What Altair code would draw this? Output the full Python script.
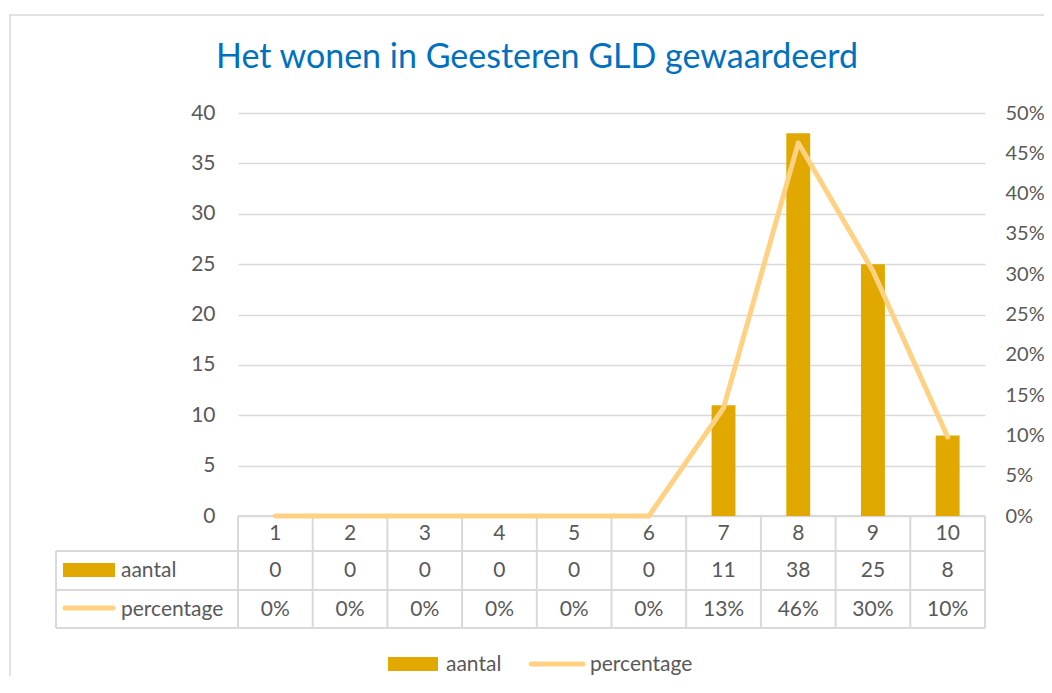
import altair as alt
import pandas as pd

categories = ["1", "2", "3", "4", "5", "6", "7", "8", "9", "10"]
aantal = [0, 0, 0, 0, 0, 0, 11, 38, 25, 8]
percentage = [0.0, 0.0, 0.0, 0.0, 0.0, 0.0, 0.134, 0.463, 0.304, 0.098]
left_ticks = [0, 5, 10, 15, 20, 25, 30, 35, 40]
right_ticks = [0, 0.05, 0.10, 0.15, 0.20, 0.25, 0.30, 0.35, 0.40, 0.45, 0.50]
title_text = "Het wonen in Geesteren GLD gewaardeerd"
series_names = ["aantal", "percentage"]

BAR = "#E1A900"
LINE = "#FFD283"
GRID = "#D9D9D9"
TXT = "#595959"
FONT = "Lato"
FS = 21

W, H = 747, 403

df = pd.DataFrame({"cat": categories, "aantal": aantal, "percentage": percentage})
one = pd.DataFrame({"k": [0]})

xenc = alt.X("cat:O", sort=categories, scale=alt.Scale(paddingInner=0, paddingOuter=0), axis=None)

base = alt.Chart(df)

bars = base.mark_bar(color=BAR, width=alt.RelativeBandSize(0.32)).encode(
    x=xenc,
    y=alt.Y("aantal:Q", scale=alt.Scale(domain=[0, 40]),
            axis=alt.Axis(orient="left", values=left_ticks, grid=True, gridColor=GRID,
                          gridWidth=1.5, title=None, labelPadding=23, labelFontSize=FS)),
)

line = base.mark_line(color=LINE, strokeWidth=5, strokeCap="round", strokeJoin="round").encode(
    x=xenc,
    y=alt.Y("percentage:Q", scale=alt.Scale(domain=[0, 0.5]),
            axis=alt.Axis(orient="right", values=right_ticks, format=".0%", grid=False,
                          title=None, labelPadding=20, labelFontSize=20)),
)

# table grid
def rule(x1, x2, y1, y2):
    return alt.Chart(one).mark_rule(color=GRID, strokeWidth=2).encode(
        x=alt.value(x1), x2=alt.value(x2), y=alt.value(y1), y2=alt.value(y2))

rules = [
    rule(0, W, H, H),
    rule(-182, W, 438, 438),
    rule(-182, W, 477, 477),
    rule(-182, W, 515, 515),
    rule(-182, -182, 438, 515),
    rule(W, W, H, 515),
]

vlines = base.mark_rule(color=GRID, strokeWidth=2).encode(
    x=alt.X("cat:O", sort=categories, scale=alt.Scale(paddingInner=0, paddingOuter=0),
            axis=None, bandPosition=0),
    y=alt.value(H), y2=alt.value(515),
)

def celltext(field, ypos, fmt=None):
    t = alt.Text(f"{field}:Q", format=fmt) if fmt else alt.Text(f"{field}:N")
    return base.mark_text(font=FONT, fontSize=FS, color=TXT, baseline="middle").encode(
        x=xenc, y=alt.value(ypos), text=t)

header = celltext("cat", 421)
row1 = celltext("aantal", 458)
row2 = celltext("percentage", 497, ".0%")

def label(txt, x, y, size=FS, color=TXT, align="left", baseline="middle"):
    return alt.Chart(one).mark_text(font=FONT, fontSize=size, color=color, align=align,
                                    baseline=baseline, text=txt).encode(
        x=alt.value(x), y=alt.value(y))

def swatch_rect(x1, x2, y1, y2):
    return alt.Chart(one).mark_rect(color=BAR).encode(
        x=alt.value(x1), x2=alt.value(x2), y=alt.value(y1), y2=alt.value(y2))

def swatch_line(x1, x2, y):
    return alt.Chart(one).mark_rule(color=LINE, strokeWidth=5, strokeCap="round").encode(
        x=alt.value(x1), x2=alt.value(x2), y=alt.value(y))

border = alt.Chart(one).mark_rect(fill=None, stroke=GRID, strokeWidth=1.5).encode(
    x=alt.value(-228), x2=alt.value(W + 80), y=alt.value(-98), y2=alt.value(H + 250))

title = label(title_text, 299, -45, size=34, color="#0070C0", align="center", baseline="alphabetic")

legend_parts = [
    swatch_rect(-175, -123, 450, 464), label(series_names[0], -117, 458),
    swatch_line(-173, -125, 495), label(series_names[1], -117, 497),
    swatch_rect(150, 200, 544, 558), label(series_names[0], 208, 552),
    swatch_line(293, 345, 551), label(series_names[1], 352, 552),
]

chart = alt.layer(
    border, *rules, vlines, bars, line, header, row1, row2, title, *legend_parts
).resolve_scale(y="independent").properties(
    width=W, height=H,
    padding={"left": 230, "top": 105, "right": 59, "bottom": 160},
    autosize=alt.AutoSizeParams(type="none"),
).configure_view(stroke=None).configure_axis(
    labelFont=FONT, labelColor=TXT, domain=False, ticks=False,
)

chart.save("out.html", embed_options={"renderer": "svg", "actions": False})
